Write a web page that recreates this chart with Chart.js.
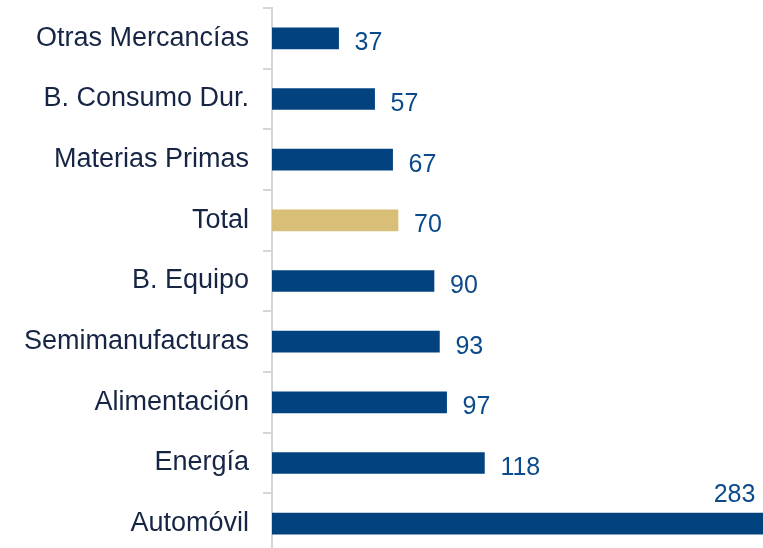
<!DOCTYPE html>
<html>
<head>
<meta charset="utf-8">
<script src="https://cdn.jsdelivr.net/npm/chart.js@4"></script>
<style>
  html, body { margin: 0; padding: 0; background: #fff; overflow: hidden; }
  #wrap { position: absolute; left: 0; top: 0; width: 820px; height: 556px; }
</style>
</head>
<body>
<div id="wrap"><canvas id="chart"></canvas></div>
<script>
// ---------- DATA ----------
const categories = [
  "Otras Mercancías",
  "B. Consumo Dur.",
  "Materias Primas",
  "Total",
  "B. Equipo",
  "Semimanufacturas",
  "Alimentación",
  "Energía",
  "Automóvil"
];
const values = [37, 57, 67, 70, 90, 93, 97, 118, 283];

const navy = "#02427f";
const tan = "#d8be77";
const barColors = categories.map(c => (c === "Total" ? tan : navy));

// ---------- VALUE LABELS ----------
const valueLabels = {
  id: "valueLabels",
  afterDatasetsDraw(chart) {
    const ctx = chart.ctx;
    const meta = chart.getDatasetMeta(0);
    ctx.save();
    ctx.font = "25px 'Liberation Sans', Arial, sans-serif";
    ctx.fillStyle = "#0b4a8b";
    ctx.textBaseline = "middle";
    meta.data.forEach((bar, i) => {
      const txt = String(values[i]);
      const w = ctx.measureText(txt).width;
      let x = bar.x + 16;
      let y = bar.y + 5;
      if (x + w > chart.chartArea.right) {
        // doesn't fit to the right: put it above the bar end
        x = bar.x - 26 - w;
        y = bar.y - 29;
      }
      ctx.textAlign = "left";
      ctx.fillText(txt, x, y);
    });
    ctx.restore();
  }
};

new Chart(document.getElementById("chart"), {
  type: "bar",
  data: {
    labels: categories,
    datasets: [{
      data: values,
      backgroundColor: barColors,
      barThickness: 21
    }]
  },
  options: {
    indexAxis: "y",
    responsive: true,
    maintainAspectRatio: false,
    animation: false,
    layout: { padding: { left: 0, right: 8, top: 8, bottom: 2 } },
    plugins: {
      legend: { display: false },
      tooltip: { enabled: false }
    },
    scales: {
      x: {
        display: false,
        min: 0,
        max: 300
      },
      y: {
        afterFit(scale) {
          scale.width = 272;
          scale.paddingTop = 0;
          scale.paddingBottom = 0;
        },
        border: { display: true, color: "#d6d6d6", width: 2 },
        grid: {
          offset: true,
          drawOnChartArea: false,
          drawTicks: true,
          tickLength: 9,
          color: "#d6d6d6",
          lineWidth: 2
        },
        ticks: {
          padding: 14,
          color: "#162544",
          font: { family: "'Liberation Sans', Arial, sans-serif", size: 27 }
        }
      }
    }
  },
  plugins: [valueLabels]
});
</script>
</body>
</html>
